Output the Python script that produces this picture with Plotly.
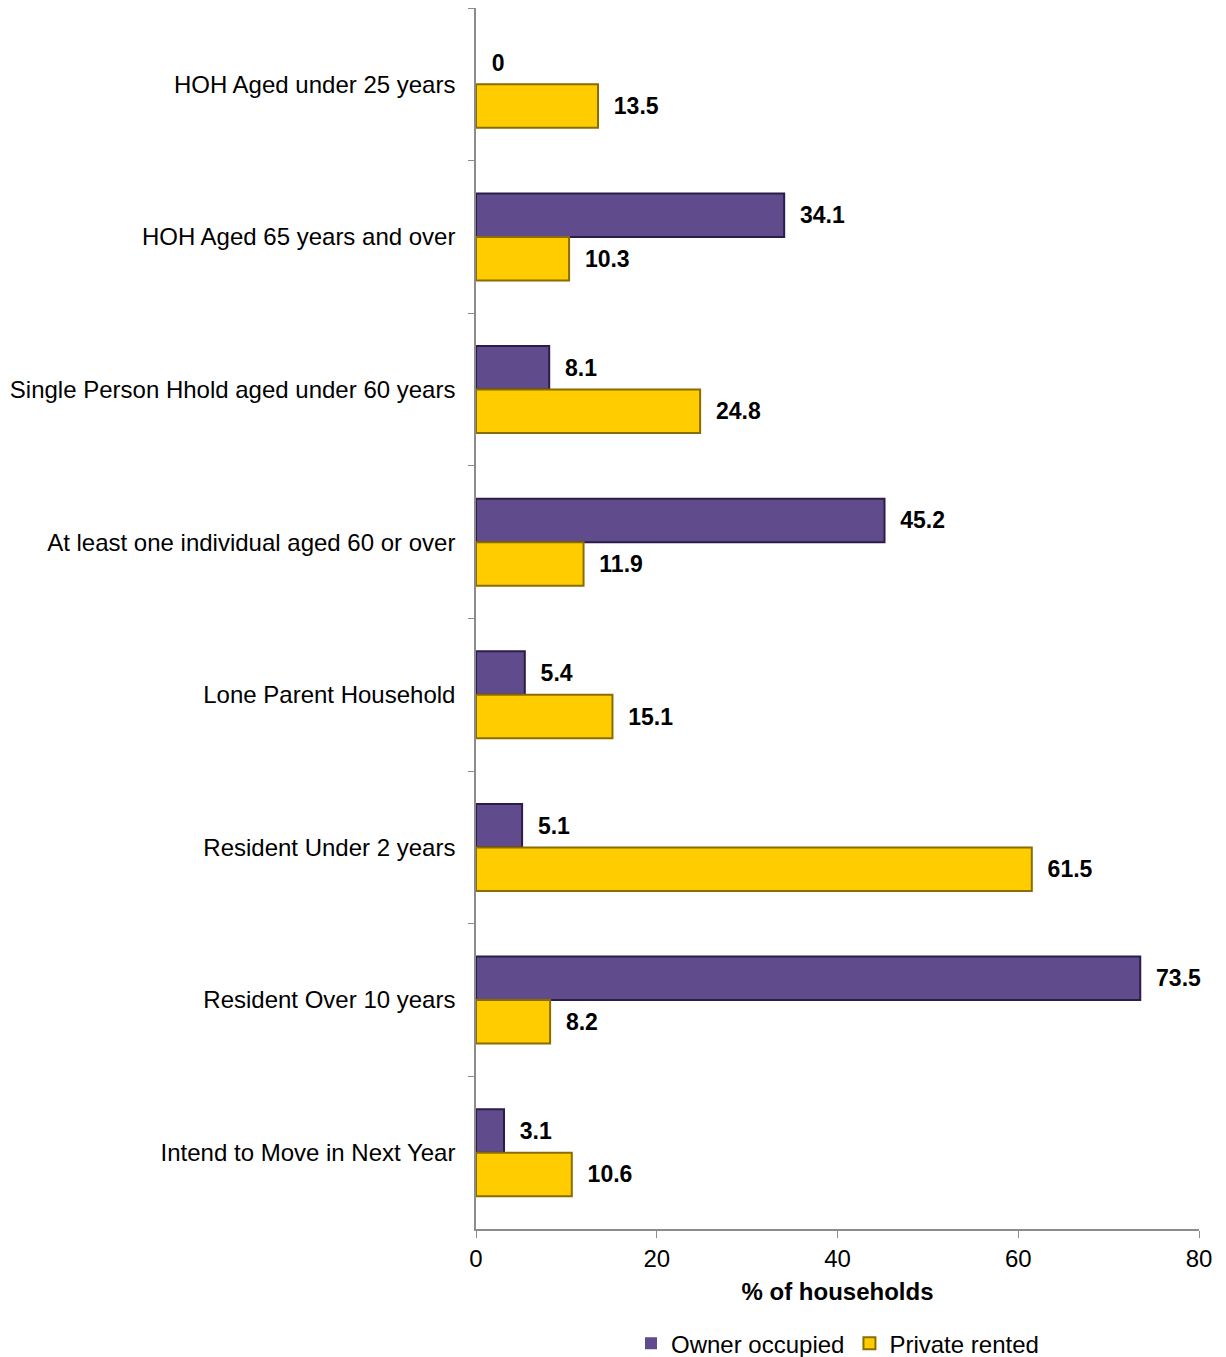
import plotly.graph_objects as go

categories = [
    "HOH Aged under 25 years",
    "HOH Aged 65 years and over",
    "Single Person Hhold aged under 60 years",
    "At least one individual aged 60 or over",
    "Lone Parent Household",
    "Resident Under 2 years",
    "Resident Over 10 years",
    "Intend to Move in Next Year",
]
owner_occupied = [0, 34.1, 8.1, 45.2, 5.4, 5.1, 73.5, 3.1]
private_rented = [13.5, 10.3, 24.8, 11.9, 15.1, 61.5, 8.2, 10.6]
x_ticks = [0, 20, 40, 60, 80]

FONT = "Liberation Sans, Arial, sans-serif"
LABEL_FONT = dict(family=FONT, size=23, color="black", weight="bold")


def edge_widths(vals):
    return [0 if v == 0 else 2 for v in vals]


fig = go.Figure()
fig.add_trace(go.Bar(
    name="Owner occupied", y=categories, x=owner_occupied, orientation="h",
    marker=dict(color="#604c8d", line=dict(color="#2b1d4a", width=edge_widths(owner_occupied))),
    texttemplate="\u00a0\u00a0%{x}", textposition="outside",
    textfont=LABEL_FONT, cliponaxis=False,
))
fig.add_trace(go.Bar(
    name="Private rented", y=categories, x=private_rented, orientation="h",
    marker=dict(color="#ffcc00", line=dict(color="#8a6d00", width=edge_widths(private_rented))),
    texttemplate="\u00a0\u00a0%{x}", textposition="outside",
    textfont=LABEL_FONT, cliponaxis=False,
))

fig.update_layout(
    width=1218, height=1349,
    margin=dict(l=468, r=27, t=0, b=128, autoexpand=False),
    barmode="group", bargap=0.43, bargroupgap=0,
    plot_bgcolor="white", paper_bgcolor="white",
    font=dict(family=FONT, size=24, color="black"),
    showlegend=True,
    legend=dict(orientation="h", x=0.5, xanchor="center", y=-0.094, yanchor="middle",
                font=dict(size=24), itemwidth=30, tracegroupgap=0),
)
fig.update_xaxes(
    range=[0, 80], tickvals=x_ticks, showgrid=False, zeroline=False,
    showline=True, linecolor="#8c8c8c", linewidth=1.5,
    ticks="outside", ticklen=7, tickcolor="#8c8c8c",
    tickfont=dict(size=24), automargin=False,
    title=dict(text="% of households", font=dict(size=24, weight="bold"), standoff=13),
)
fig.update_yaxes(
    categoryorder="array", categoryarray=categories, autorange="reversed",
    showgrid=False, showline=True, linecolor="#8c8c8c", linewidth=1.5,
    ticks="outside", ticklen=6, tickcolor="#8c8c8c", tickson="boundaries",
    tickfont=dict(size=24), ticklabelstandoff=14, automargin=False,
)

fig.write_html("out.html")
